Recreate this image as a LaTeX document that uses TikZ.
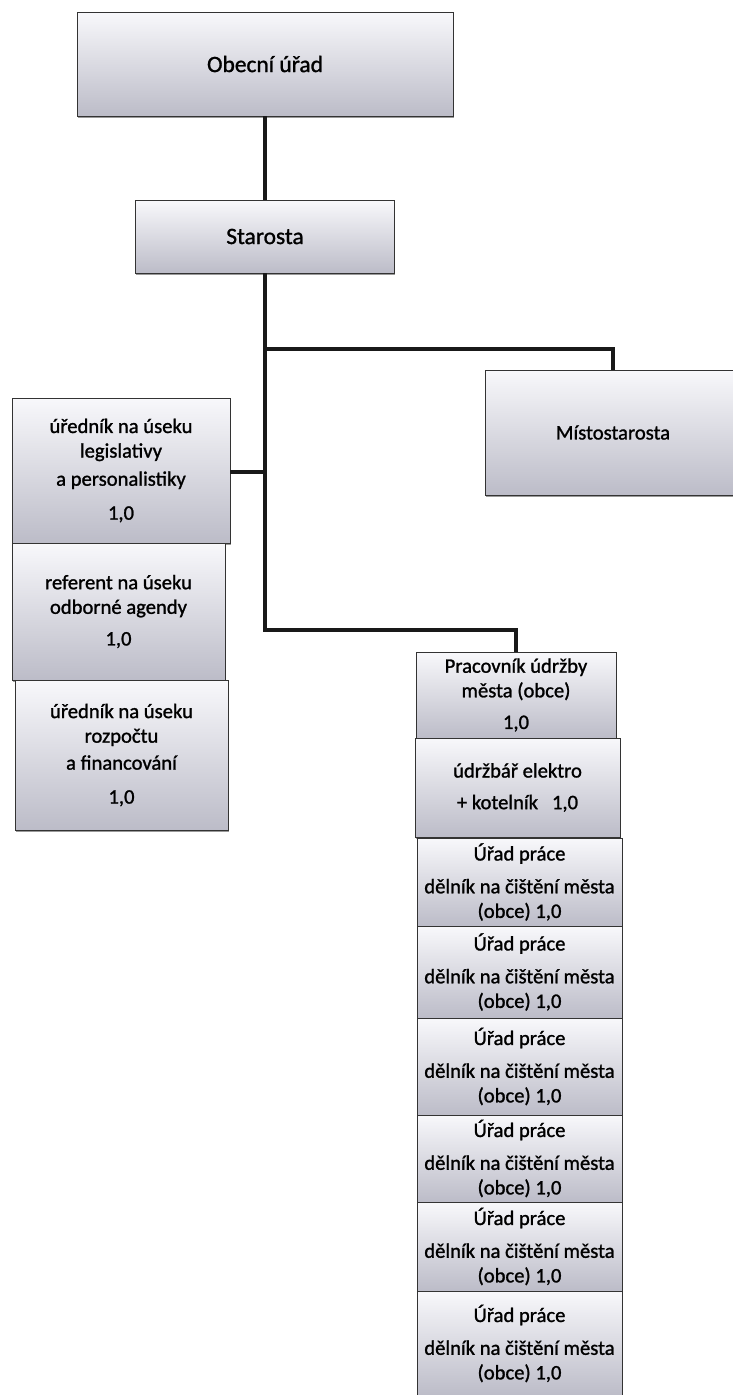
\documentclass[tikz,border=0pt]{standalone}
\usepackage{fontspec}
\setmainfont{Carlito}
\newfontface\boxfont{Carlito}[FakeBold=1.2]
\usetikzlibrary{shadows}

\begin{document}
\begin{tikzpicture}
    [x=0.03cm, y=-0.03cm,
    %Option for the boxes
    box/.style 2 args={draw=black!80, line width=0.6pt, inner sep=0pt,%
        top color=boxtop, bottom color=boxbot, align=center,%
        minimum width=#1*0.03cm, minimum height=#2*0.03cm,%
        font=\boxfont\fontsize{17.6}{21}\selectfont,%
        drop shadow={shadow xshift=0.7pt, shadow yshift=-1.4pt, opacity=0.8}},
    bigtext/.style={font=\boxfont\fontsize{20}{24}\selectfont},
    link/.style={line width=3pt, color=black!90}];

    % Colors
    \definecolor{boxtop}{RGB}{248,248,251};
    \definecolor{boxbot}{RGB}{188,188,200};

    % Frame
    \useasboundingbox (0,0) rectangle (733,1395);

    % Head
    \node[box={376}{104}, bigtext] (obec) at (265,64) {Obecní úřad};
    \node[box={259}{73}, bigtext] (starosta) at (265,236.5) {Starosta};
    \node[box={256}{125}] (misto) at (613,432.5) {Místostarosta};

    % Left column
    \node[box={218}{145}] (left1) at (121,470.5)
        {úředník na úseku\\legislativy\\[3pt]a personalistiky\\[8pt]1,0};
    \node[box={213}{137}] (left2) at (118.5,611.5)
        {referent na úseku\\odborné agendy\\[6pt]1,0};
    \node[box={213}{150}] (left3) at (121.5,755)
        {úředník na úseku\\rozpočtu\\[2pt]a financování\\[8pt]1,0};

    % Right column
    \node[box={200}{86}] (right1) at (516,695)
        {Pracovník údržby\\města (obce)\\[6pt]1,0};
    \node[box={205}{99}] (right2) at (517.5,787.5)
        {údržbář elektro\\[6pt]+ kotelník~~~1,0};
    \foreach \y/\h [count=\i] in {882/88, 972/92, 1066.5/97, 1158.5/87, 1246.5/89, 1343.5/105}
        \node[box={205}{\h}] (urad\i) at (519.5,\y)
            {Úřad práce\\[7pt]dělník na čištění města\\(obce) 1,0};

    % Lines
    \coordinate (jm) at (265,349);
    \coordinate (jl) at (265,472);
    \coordinate (jr) at (265,630);
    \draw[link] (obec.south) -- (starosta.north);
    \draw[link] (starosta.south) -- (jr) -| (right1.north);
    \draw[link] (jm) -| (misto.north);
    \draw[link] (jl) -- (jl -| left1.east);

\end{tikzpicture}
\end{document}
